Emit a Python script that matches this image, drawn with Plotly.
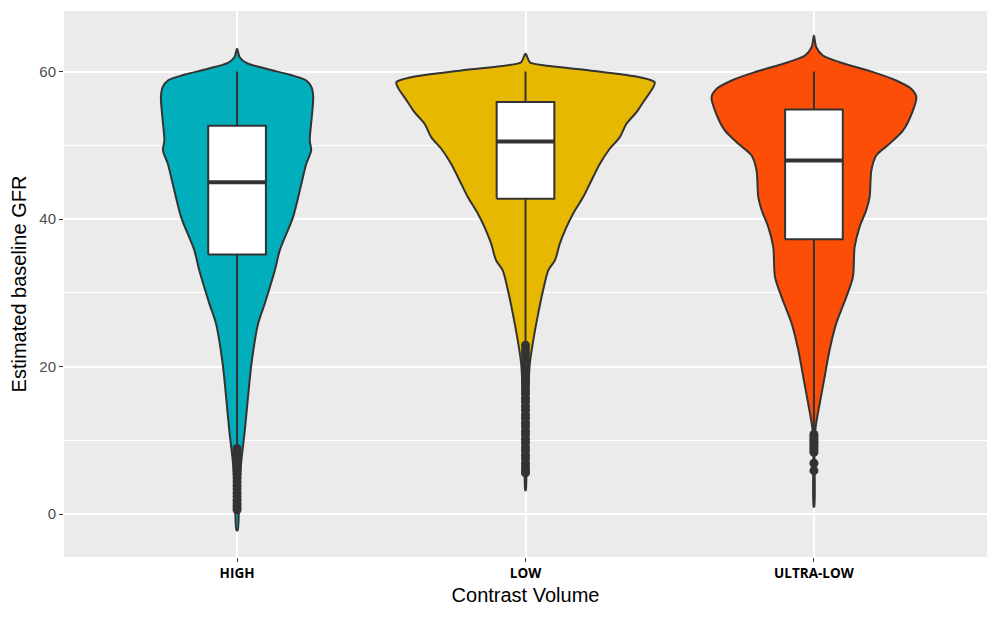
import plotly.graph_objects as go

# ---------------- data ----------------
categories = ["HIGH", "LOW", "ULTRA-LOW"]
colors = ["#00AFBB", "#E7B800", "#FC4E07"]

# violin outlines: y values (top to bottom) and half-widths (category units)
high_y = [63.08, 61.94, 61.18, 60.37, 59.56, 58.78, 57.88, 56.52, 53.81, 50.65, 49.30,
          47.50, 44.79, 40.27, 35.76, 33.05, 28.54, 25.83, 20.41, 15.89, 11.38, 6.87, 2.34, -2.17]
high_hw = [0.0, 0.009, 0.032, 0.101, 0.183, 0.240, 0.258, 0.264, 0.259, 0.252, 0.257,
           0.240, 0.223, 0.194, 0.148, 0.131, 0.096, 0.073, 0.050, 0.038, 0.027, 0.014, 0.007, 0.002]

low_y = [62.40, 61.26, 60.91, 60.14, 59.23, 58.55, 57.88, 55.84, 54.49, 52.92, 51.10, 49.53,
         47.50, 44.79, 42.98, 40.73, 38.91, 36.67, 34.40, 33.05, 30.34, 27.18, 23.57, 20.41,
         15.89, 11.38, 6.87, 3.25]
low_hw = [0.0, 0.015, 0.050, 0.223, 0.396, 0.448, 0.443, 0.408, 0.385, 0.350, 0.327, 0.292,
          0.258, 0.223, 0.200, 0.165, 0.142, 0.119, 0.102, 0.079, 0.061, 0.044, 0.027, 0.015,
          0.009, 0.006, 0.003, 0.001]

ultra_y = [64.88, 63.29, 62.17, 61.26, 59.91, 58.78, 57.66, 56.52, 54.71, 52.01, 50.21, 48.62,
           46.59, 42.98, 41.18, 38.91, 36.20, 32.14, 29.43, 25.83, 22.21, 18.60, 14.99, 11.82,
           9.12, 0.99]
ultra_hw = [0.0, 0.008, 0.031, 0.089, 0.205, 0.285, 0.337, 0.355, 0.343, 0.309, 0.262, 0.216,
            0.199, 0.193, 0.181, 0.158, 0.141, 0.135, 0.112, 0.077, 0.054, 0.037, 0.020, 0.006,
            0.002, 0.001]

# box statistics
q1 = [35.2, 42.75, 37.25]
median = [45.0, 50.5, 47.95]
q3 = [52.65, 55.85, 54.85]
lower_whisker = [9.1, 23.2, 11.2]
upper_whisker = [60.0, 60.0, 60.0]

# outliers
high_out = [8.9, 8.4, 7.9, 7.4, 6.9, 6.4, 5.9, 5.4, 4.9, 4.4, 3.9, 3.4, 2.9, 2.4, 1.9, 1.4, 1.0, 0.6]
low_out = [22.9, 22.3, 21.8, 21.2, 20.7, 20.1, 19.6, 19.0, 18.5, 17.9, 17.4, 16.8, 16.3, 15.7,
           15.2, 14.6, 14.1, 13.5, 13.0, 12.4, 11.9, 11.3, 10.8, 10.2, 9.7, 9.1, 8.6, 8.0, 7.5,
           6.9, 6.4, 5.9, 5.6]
ultra_out = [10.8, 10.5, 10.2, 9.9, 9.6, 9.3, 9.0, 8.7, 8.4, 6.9, 5.9]

violin_y = [high_y, low_y, ultra_y]
violin_hw = [high_hw, low_hw, ultra_hw]
outliers = [high_out, low_out, ultra_out]

# ---------------- figure ----------------
DARK = "#333333"
BOX_HALF = 0.1
fig = go.Figure()

for i, cat in enumerate(categories):
    ys, hws = violin_y[i], violin_hw[i]
    xs = [i + w for w in hws] + [i - w for w in reversed(hws)]
    yy = list(ys) + list(reversed(ys))
    fig.add_trace(go.Scatter(
        x=xs, y=yy, mode="lines", fill="toself", fillcolor=colors[i],
        line=dict(color=DARK, width=2, shape="spline", smoothing=0.8),
        hoverinfo="skip", showlegend=False))

for i, cat in enumerate(categories):
    # whiskers
    fig.add_trace(go.Scatter(
        x=[i, i, None, i, i],
        y=[q3[i], upper_whisker[i], None, q1[i], lower_whisker[i]],
        mode="lines", line=dict(color=DARK, width=2),
        hoverinfo="skip", showlegend=False))
    # box body
    fig.add_trace(go.Scatter(
        x=[i - BOX_HALF, i + BOX_HALF, i + BOX_HALF, i - BOX_HALF, i - BOX_HALF],
        y=[q1[i], q1[i], q3[i], q3[i], q1[i]],
        mode="lines", fill="toself", fillcolor="white",
        line=dict(color=DARK, width=2), hoverinfo="skip", showlegend=False))
    # median
    fig.add_trace(go.Scatter(
        x=[i - BOX_HALF, i + BOX_HALF], y=[median[i], median[i]], mode="lines",
        line=dict(color=DARK, width=4), hoverinfo="skip", showlegend=False))
    # outliers
    fig.add_trace(go.Scatter(
        x=[i] * len(outliers[i]), y=outliers[i], mode="markers",
        marker=dict(color=DARK, size=9), hoverinfo="skip", showlegend=False))

fig.update_layout(
    width=990, height=611,
    margin=dict(l=56, r=11, t=3, b=62),
    paper_bgcolor="white", plot_bgcolor="#EBEBEB",
    font=dict(family="Liberation Sans, Arial, sans-serif"),
    showlegend=False,
)
fig.update_xaxes(
    range=[-0.6, 2.6], tickvals=[0, 1, 2], ticktext=categories,
    showgrid=True, gridcolor="white", gridwidth=1.5, zeroline=False,
    ticks="outside", ticklen=4, tickcolor=DARK, tickwidth=1,
    tickfont=dict(family="Open Sans, sans-serif", size=13.5, color="black", weight="bold"),
    title=dict(text="Contrast Volume", font=dict(size=20, color="black"), standoff=6),
    showline=False,
)
fig.update_yaxes(
    range=[-5.8, 68.2], tickvals=[0, 20, 40, 60],
    showgrid=True, gridcolor="white", gridwidth=1.5, zeroline=False,
    minor=dict(tickvals=[10, 30, 50], showgrid=True, gridcolor="white", gridwidth=0.7, ticks=""),
    ticks="outside", ticklen=4, tickcolor=DARK, tickwidth=1,
    tickfont=dict(size=15, color="#4D4D4D"),
    title=dict(text="Estimated baseline GFR", font=dict(size=20, color="black"), standoff=8),
    showline=False,
)

fig.write_html("out.html")
